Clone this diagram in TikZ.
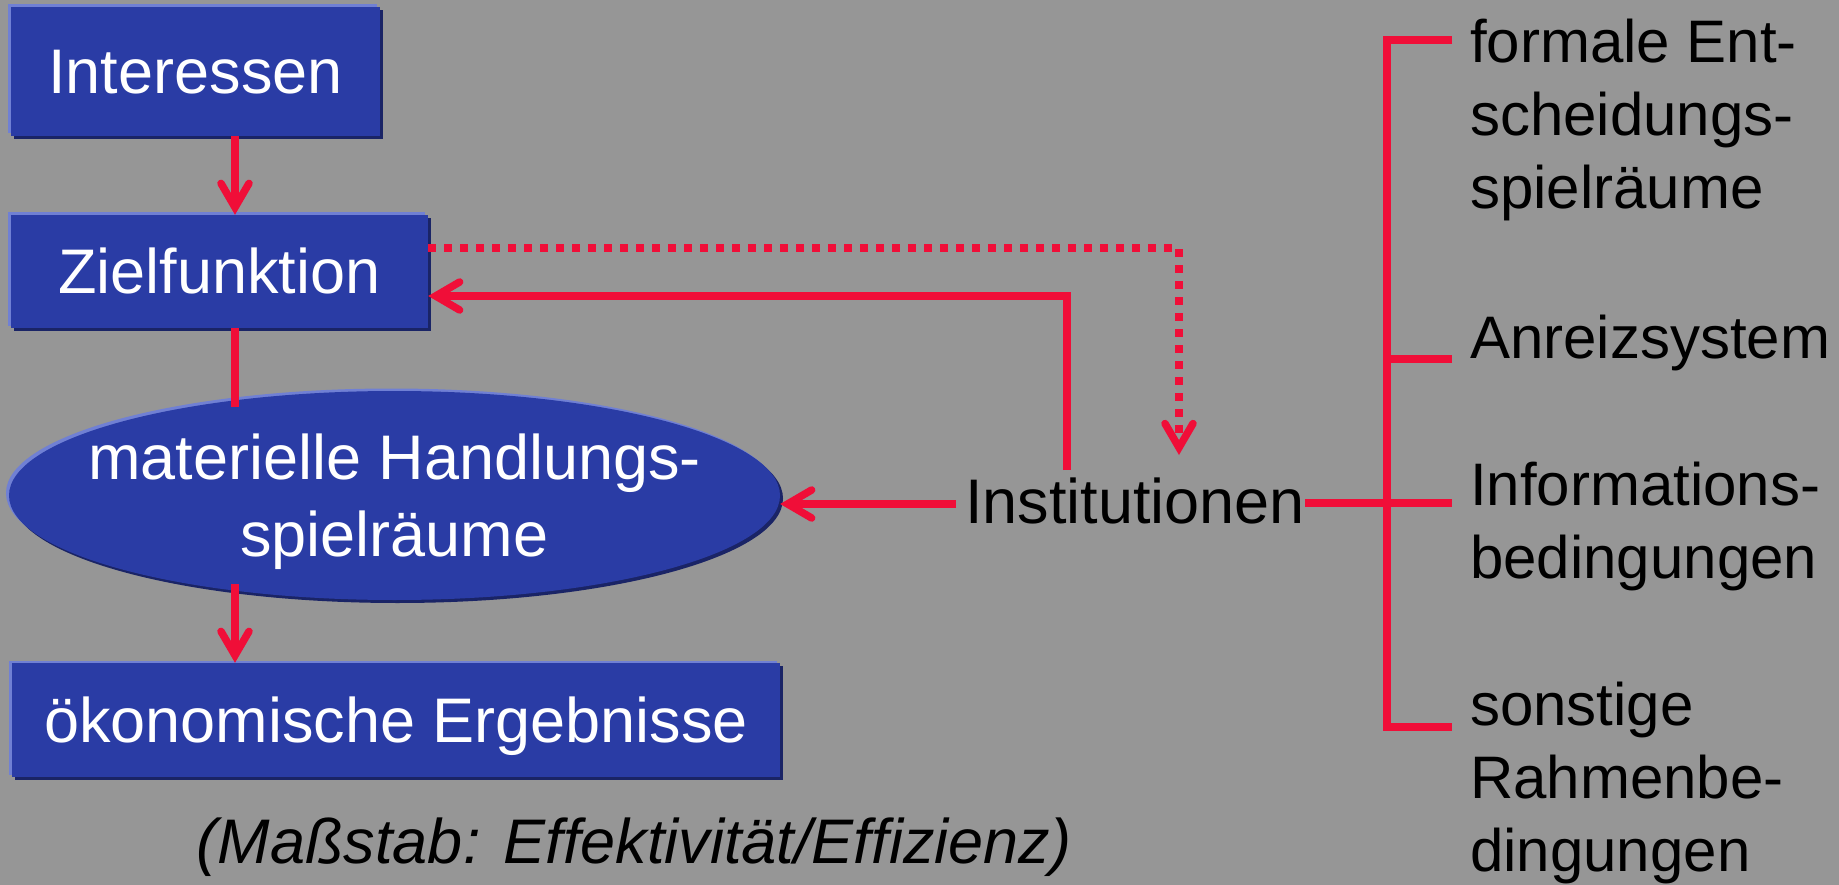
\documentclass[tikz,border=0pt]{standalone}
\usepackage{fontspec}
\setmainfont{Liberation Sans}
\usetikzlibrary{arrows.meta,shapes.geometric,shadows}

\definecolor{bggray}{RGB}{150,150,150}
\definecolor{boxblue}{RGB}{42,60,165}
\definecolor{boxlight}{RGB}{112,128,212}
\definecolor{boxdark}{RGB}{26,36,102}
\definecolor{linered}{RGB}{240,14,56}

\begin{document}
\begin{tikzpicture}[x=1pt,y=-1pt,
  every node/.style={inner sep=0pt},
  bigtext/.style={font=\fontsize{63}{77}\selectfont},
  sidetext/.style={font=\fontsize{60}{73}\selectfont, align=left, anchor=base west},
  bevel/.style={general shadow={fill=boxlight, shadow xshift=-3pt, shadow yshift=2.5pt},
                general shadow={fill=boxdark, shadow xshift=3pt, shadow yshift=-3pt}},
  bluebox/.style={rectangle, fill=boxblue, text=white, bigtext, bevel,
                  text height=45pt, text depth=0pt},
  blueoval/.style={ellipse, fill=boxblue, bevel, minimum width=771pt, minimum height=209pt},
  redline/.style={draw=linered, line width=7.5pt},
  arr/.style={redline, -{Straight Barb[length=24pt,width=28pt,line cap=round,line join=miter]}},
  dotline/.style={dash pattern=on 8pt off 8pt},
]
% canvas
\fill[bggray] (0,0) rectangle (1839,885);
\useasboundingbox (0,0) rectangle (1839,885);

% left column
\node[bluebox, minimum width=369pt, minimum height=129pt] (int) at (195.5,71.5) {Interessen};
\node[bluebox, minimum width=417pt, minimum height=113pt] (ziel) at (219.5,271.5) {Zielfunktion};
\node[blueoval, label={[text=white, bigtext, align=center, yshift=-6.5pt]center:{materielle Handlungs-\\spielräume}}] (mat) at (394.5,495.5) {};
\node[bluebox, minimum width=768pt, minimum height=114pt] (oek) at (396,720) {ökonomische Ergebnisse};
\node[font=\fontsize{63}{77}\selectfont\itshape, anchor=base] (mass) at (634,863) {(Maßstab: Effektivität/Effizienz)};

% centre
\node[bigtext, anchor=base] (inst) at (1135,523) {Institutionen};

% right column (anchored at the baseline of the last line)
\node[sidetext] (fes) at (1470,209) {formale Ent-\\scheidungs-\\spielräume};
\node[sidetext] (anr) at (1470,358) {Anreizsystem};
\node[sidetext] (info) at (1470,578) {Informations-\\bedingungen};
\node[sidetext] (sonst) at (1470,871) {sonstige\\Rahmenbe-\\dingungen};

% helper coordinates
\coordinate (xa) at (235,0);
\coordinate (matTop) at (235,407);
\coordinate (matBot) at (235,584);
\coordinate (fbStart) at (1067,470);
\coordinate (fbTurn) at (1067,296);
\coordinate (dotTurn) at (1179,248);
\coordinate (dotEnd) at (1179,455);
\coordinate (instL) at (956,504);
\coordinate (brTop) at (1387,40);
\coordinate (brBot) at (1387,727);

% main chain
\draw[arr] (int.south -| xa) -- (ziel.north -| xa);
\draw[redline] (ziel.south -| xa) -- (matTop);
\draw[arr] (matBot) -- (oek.north -| xa);

% feedback from the institutions
\draw[arr] (fbStart) -- (fbTurn) -- (fbTurn -| ziel.east);
\draw[arr, dotline] (dotTurn -| ziel.east) -- (dotTurn) -- (dotEnd);
\draw[arr] (instL) -- (mat.east |- instL);

% bracket of institutional elements
\draw[redline, line join=miter] (brTop) ++(65,0) -- (brTop) -- (brBot) -- ++(65,0);
\draw[redline] (brTop |- 0,359) -- ++(65,0);
\draw[redline] (inst.east |- 0,503) -- (1452,503);
\end{tikzpicture}
\end{document}
